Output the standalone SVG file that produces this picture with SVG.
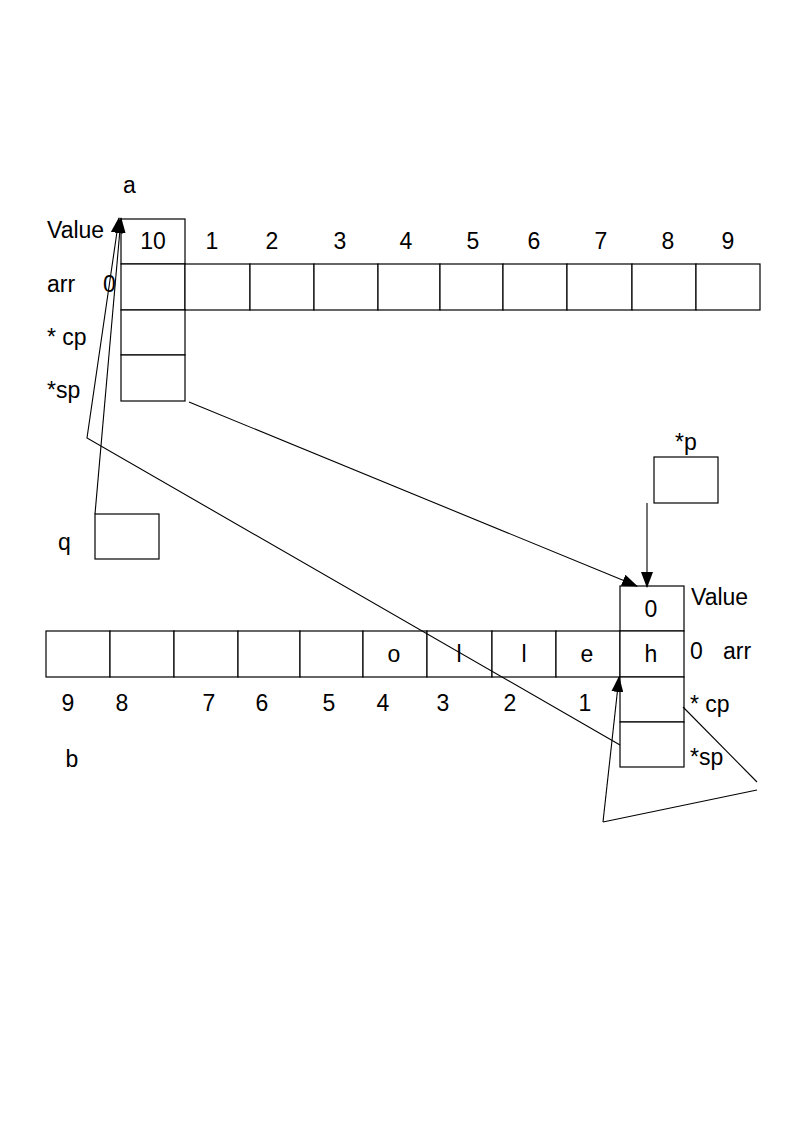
<svg xmlns="http://www.w3.org/2000/svg" width="794" height="1123" viewBox="0 0 794 1123">
<style>
.c{fill:#fff;stroke:#000;stroke-width:1.2}
.t{font-family:"Liberation Sans",Arial,sans-serif;font-size:23px;fill:#000}
.m{text-anchor:middle}
.l{fill:none;stroke:#000;stroke-width:1.1}
</style>
<defs>
<marker id="ah" markerUnits="userSpaceOnUse" markerWidth="16" markerHeight="12" viewBox="0 0 16 12" refX="15" refY="6" orient="auto">
<path d="M0,0 L16,6 L0,12 z" fill="#000"/>
</marker>
</defs>
<rect width="794" height="1123" fill="#fff"/>
<g id="arrayA">
<rect class="c" x="121" y="219" width="64" height="45"/>
<rect class="c" x="121" y="264" width="64" height="46"/>
<rect class="c" x="185" y="264" width="65" height="46"/>
<rect class="c" x="250" y="264" width="64" height="46"/>
<rect class="c" x="314" y="264" width="64" height="46"/>
<rect class="c" x="378" y="264" width="62" height="46"/>
<rect class="c" x="440" y="264" width="63" height="46"/>
<rect class="c" x="503" y="264" width="64" height="46"/>
<rect class="c" x="567" y="264" width="65" height="46"/>
<rect class="c" x="632" y="264" width="64" height="46"/>
<rect class="c" x="696" y="264" width="64" height="46"/>
<rect class="c" x="121" y="310" width="64" height="45"/>
<rect class="c" x="121" y="355" width="64" height="46"/>
<text class="t m" x="129.5" y="193">a</text>
<text class="t" x="47" y="238">Value</text>
<text class="t m" x="153" y="249">10</text>
<text class="t m" x="212" y="249">1</text>
<text class="t m" x="272" y="249">2</text>
<text class="t m" x="340" y="249">3</text>
<text class="t m" x="406" y="249">4</text>
<text class="t m" x="473" y="249">5</text>
<text class="t m" x="534" y="249">6</text>
<text class="t m" x="601" y="249">7</text>
<text class="t m" x="668" y="249">8</text>
<text class="t m" x="728" y="249">9</text>
<text class="t" x="47" y="292">arr</text>
<text class="t" x="103" y="292">0</text>
<text class="t" x="47" y="345">* cp</text>
<text class="t" x="47" y="398">*sp</text>
</g>
<g id="q">
<rect class="c" x="95" y="514" width="64" height="45"/>
<text class="t" x="58" y="550">q</text>
</g>
<g id="p">
<rect class="c" x="654" y="457" width="64" height="46"/>
<text class="t" x="675" y="450">*p</text>
</g>
<g id="arrayB">
<rect class="c" x="620" y="586" width="64" height="45"/>
<rect class="c" x="46" y="631" width="64" height="46"/>
<rect class="c" x="110" y="631" width="64" height="46"/>
<rect class="c" x="174" y="631" width="64" height="46"/>
<rect class="c" x="238" y="631" width="62" height="46"/>
<rect class="c" x="300" y="631" width="63" height="46"/>
<rect class="c" x="363" y="631" width="64" height="46"/>
<rect class="c" x="427" y="631" width="65" height="46"/>
<rect class="c" x="492" y="631" width="64" height="46"/>
<rect class="c" x="556" y="631" width="64" height="46"/>
<rect class="c" x="620" y="631" width="64" height="46"/>
<rect class="c" x="620" y="677" width="64" height="45"/>
<rect class="c" x="620" y="722" width="64" height="45"/>
<text class="t m" x="651" y="617">0</text>
<text class="t" x="691" y="605">Value</text>
<text class="t m" x="651" y="662">h</text>
<text class="t m" x="587" y="662">e</text>
<text class="t m" x="524" y="662">l</text>
<text class="t m" x="459" y="662">l</text>
<text class="t m" x="394" y="662">o</text>
<text class="t" x="690" y="659">0</text>
<text class="t" x="723" y="659">arr</text>
<text class="t m" x="68" y="711">9</text>
<text class="t m" x="122" y="711">8</text>
<text class="t m" x="209" y="711">7</text>
<text class="t m" x="262" y="711">6</text>
<text class="t m" x="329" y="711">5</text>
<text class="t m" x="383" y="711">4</text>
<text class="t m" x="443" y="711">3</text>
<text class="t m" x="510" y="711">2</text>
<text class="t m" x="585" y="711">1</text>
<text class="t" x="690" y="712">* cp</text>
<text class="t" x="690" y="765">*sp</text>
<text class="t m" x="72" y="767">b</text>
</g>
<g id="connectors">
<line class="l" x1="95" y1="514" x2="121" y2="218" marker-end="url(#ah)"/>
<polyline class="l" points="620,745 87,438 119,218" marker-end="url(#ah)"/>
<line class="l" x1="189" y1="402" x2="637" y2="586" marker-end="url(#ah)"/>
<line class="l" x1="647" y1="503" x2="647" y2="587" marker-end="url(#ah)"/>
<line class="l" x1="683" y1="707" x2="757" y2="782"/>
<line class="l" x1="757" y1="790" x2="603" y2="822"/>
<line class="l" x1="603" y1="822" x2="619" y2="677" marker-end="url(#ah)"/>
</g>
</svg>
